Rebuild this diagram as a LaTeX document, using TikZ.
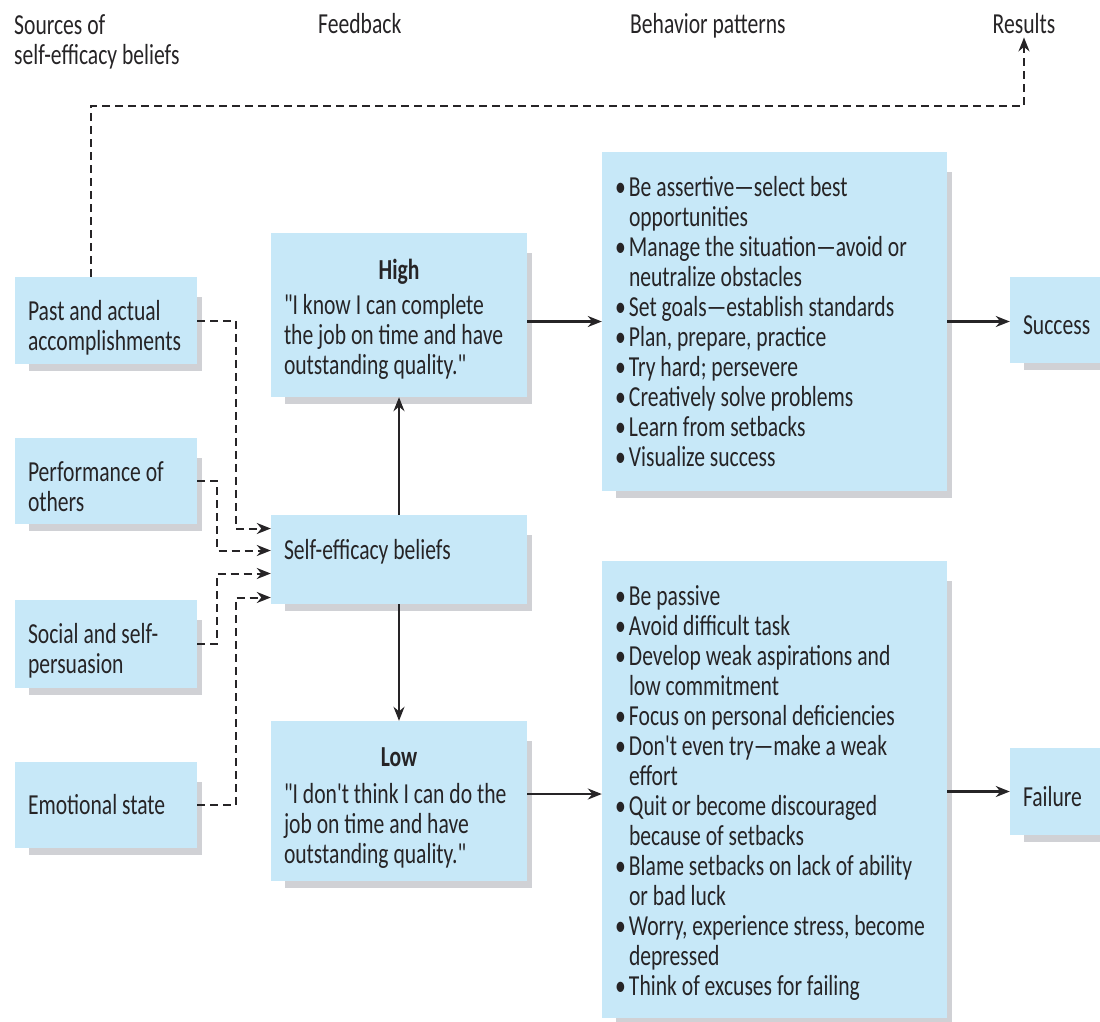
\documentclass[tikz,border=0pt]{standalone}
\usepackage{fontspec}
\setmainfont{Carlito}[FakeStretch=0.745, Ligatures=TeXOff]
\usepackage{tikz}
\usetikzlibrary{arrows.meta, backgrounds}
\definecolor{boxblue}{RGB}{199,232,248}
\definecolor{shadowgray}{RGB}{208,209,213}
\definecolor{ink}{RGB}{38,36,38}
\newcommand{\bl}{\makebox[14pt][l]{\textbullet}}
\newcommand{\ind}{\hspace*{14pt}}
\newcommand{\tp}[1]{\rule{0pt}{#1pt}}

\begin{document}
\begin{tikzpicture}[x=1pt,y=-1pt,
        txt/.style={font=\fontsize{29}{30}\selectfont, text=ink,
            execute at begin node={\spaceskip=0pt\xspaceskip=0pt\hyphenpenalty=10000}},
        box/.style={txt, fill=boxblue, inner xsep=13pt, inner ysep=0pt, align=flush left},
        hdr/.style={txt, inner sep=0pt, anchor=base west, align=flush left},
        arr/.style={draw=ink, line width=2.2pt, -{Stealth[length=14pt,width=11pt]}},
        dsh/.style={arr, line width=2pt, dash pattern=on 8pt off 5pt}]
        \useasboundingbox (0,0) rectangle (1100,1021);

        \node[hdr, anchor=north west] (src) at (14,14) {Sources of\\self-efficacy beliefs};
        \node[hdr] (fb) at (318,33) {Feedback};
        \node[hdr] (bp) at (630,33) {Behavior patterns};
        \node[hdr, anchor=base] (results) at (1024,33) {Results};

        \node[box, text width=156pt, minimum height=87pt] (past) at (106,320.5) {\tp{35}Past and actual\\accomplishments};
        \node[box, text width=156pt, minimum height=86pt] (perf) at (106,481) {\tp{32}Performance of\\others};
        \node[box, text width=156pt, minimum height=88pt] (social) at (106,644) {\tp{34}Social and self-\\persuasion};
        \node[box, text width=156pt, minimum height=86pt] (emot) at (106,805) {Emotional state};

        \node[box, text width=230pt, minimum height=164pt] (high) at (399,315) {\tp{28}\makebox[230pt]{\textbf{High}}\\[5pt]
            "I know I can complete\\the job on time and have\\outstanding quality."};
        \node[box, text width=230pt, minimum height=89pt] (self) at (399,559.5) {Self-efficacy beliefs\rule[-21pt]{0pt}{0pt}};
        \node[box, text width=230pt, minimum height=160pt] (low) at (399,801) {\tp{32}\makebox[230pt]{\textbf{Low}}\\[7pt]
            "I don't think I can do the\\job on time and have\\outstanding quality."};

        \node[box, text width=319pt, minimum height=339pt] (hiact) at (774.5,321.5) {\bl Be assertive—select best\\
            \ind opportunities\\
            \bl Manage the situation—avoid or\\
            \ind neutralize obstacles\\
            \bl Set goals—establish standards\\
            \bl Plan, prepare, practice\\
            \bl Try hard; persevere\\
            \bl Creatively solve problems\\
            \bl Learn from setbacks\\
            \bl Visualize success};
        \node[box, text width=319pt, minimum height=457pt] (loact) at (774.5,789.5) {\tp{27}\bl Be passive\\
            \bl Avoid difficult task\\
            \bl Develop weak aspirations and\\
            \ind low commitment\\
            \bl Focus on personal deficiencies\\
            \bl Don't even try—make a weak\\
            \ind effort\\
            \bl Quit or become discouraged\\
            \ind because of setbacks\\
            \bl Blame setbacks on lack of ability\\
            \ind or bad luck\\
            \bl Worry, experience stress, become\\
            \ind depressed\\
            \bl Think of excuses for failing};

        \node[box, text width=74pt, minimum height=86pt] (success) at (1060,320) {\tp{30}Success};
        \node[box, text width=74pt, minimum height=87pt] (failure) at (1060,791.5) {\tp{31}Failure};

        \begin{scope}[on background layer]
            \foreach \n in {past,perf,social,emot,high,self,low,hiact,loact,success,failure}
                \fill[shadowgray] ([xshift=14pt,yshift=-20pt]\n.north west) rectangle ([xshift=5pt,yshift=-7pt]\n.south east);
        \end{scope}

        \draw[dsh] ([xshift=-15pt]past.north) -- ++(0,-171) -| ([yshift=-4pt]results.south);
        \draw[dsh] (past.east) -| ([xshift=-35pt,yshift=31pt]self.west) -- ([yshift=31pt]self.west);
        \draw[dsh] (perf.east) -| ([xshift=-54pt,yshift=9pt]self.west) -- ([yshift=9pt]self.west);
        \draw[dsh] (social.east) -| ([xshift=-54pt,yshift=-14pt]self.west) -- ([yshift=-14pt]self.west);
        \draw[dsh] (emot.east) -| ([xshift=-35pt,yshift=-38pt]self.west) -- ([yshift=-38pt]self.west);

        \draw[arr] (self.north) -- (high.south);
        \draw[arr] (self.south) -- (low.north);
        \draw[arr] (hiact.west -| high.east) -- (hiact.west);
        \draw[arr] ([yshift=7pt]low.east) -- ([yshift=7pt]low.east -| loact.west);
        \draw[arr] (hiact.east) -- (hiact.east -| success.west);
        \draw[arr] (failure.west -| loact.east) -- (failure.west);
    \end{tikzpicture}
\end{document}
